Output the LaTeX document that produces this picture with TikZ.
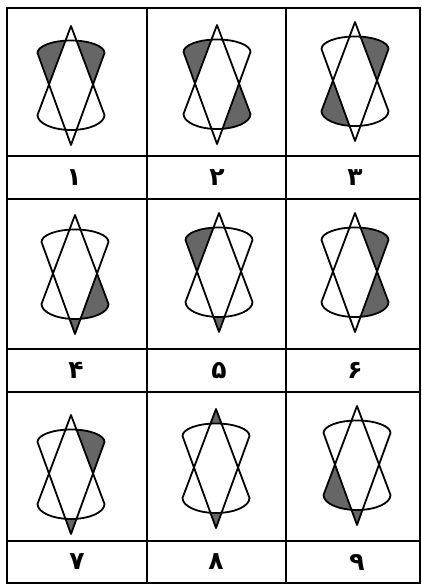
\documentclass[tikz,border=0pt]{standalone}
\usepackage{fontspec}
\newfontfamily\fa[Script=Arabic]{DejaVu Sans}
\TeXXeTstate=1
\tikzset{
  fig/.style={line width=1.8pt, line join=round},
  grid/.style={line width=1.8pt},
  shd/.style={fill=black!60},
  lab/.style={font=\fa\bfseries\fontsize{25}{28}\selectfont, inner sep=0pt}
}
\newcommand\regTL{\begin{scope}
  \clip (0,-119) -- (-33.5pt,-27) arc[start angle=180,end angle=0,x radius=33.5pt,y radius=12.5pt] -- cycle;
  \clip (0,50) -- (0,0) -- (-67,-178) -- (-120,-178) -- (-120,50) -- cycle;
  \fill[shd] (-120,-200) rectangle (120,60);\end{scope}}
\newcommand\regTR{\begin{scope}
  \clip (0,-119) -- (-33.5pt,-27) arc[start angle=180,end angle=0,x radius=33.5pt,y radius=12.5pt] -- cycle;
  \clip (0,50) -- (0,0) -- (67,-178) -- (120,-178) -- (120,50) -- cycle;
  \fill[shd] (-120,-200) rectangle (120,60);\end{scope}}
\newcommand\regBL{\begin{scope}
  \clip (0,0) -- (-33.5pt,-89) arc[start angle=180,end angle=360,x radius=33.5pt,y radius=15pt] -- cycle;
  \clip (0,-170) -- (0,-119) -- (-67,65) -- (-120,65) -- (-120,-170) -- cycle;
  \fill[shd] (-120,-200) rectangle (120,60);\end{scope}}
\newcommand\regBR{\begin{scope}
  \clip (0,0) -- (-33.5pt,-89) arc[start angle=180,end angle=360,x radius=33.5pt,y radius=15pt] -- cycle;
  \clip (0,-170) -- (0,-119) -- (67,65) -- (120,65) -- (120,-170) -- cycle;
  \fill[shd] (-120,-200) rectangle (120,60);\end{scope}}
\newcommand\regTT{\begin{scope}
  \clip (0,0) -- (-33.5pt,-89) arc[start angle=180,end angle=360,x radius=33.5pt,y radius=15pt] -- cycle;
  \clip (-40,-27) rectangle (40,10);
  \fill[shd, even odd rule] (-40,-36) rectangle (40,10) (0,-27) ellipse[x radius=33.5pt,y radius=12.5pt];\end{scope}}
\newcommand\regBT{\begin{scope}
  \clip (0,-119) -- (-33.5pt,-27) arc[start angle=180,end angle=0,x radius=33.5pt,y radius=12.5pt] -- cycle;
  \clip (-40,-89) rectangle (40,-130);
  \fill[shd, even odd rule] (-40,-80) rectangle (40,-130) (0,-89) ellipse[x radius=33.5pt,y radius=15pt];\end{scope}}
\newcommand\Fig[3]{\begin{scope}[shift={(#1,#2)}]
  \foreach \r in {#3} {\csname reg\r\endcsname}
  \draw[fig] (0,0) -- (-33.5pt,-89) arc[start angle=180,end angle=360,x radius=33.5pt,y radius=15pt] -- cycle;
  \draw[fig] (0,-119) -- (-33.5pt,-27) arc[start angle=180,end angle=0,x radius=33.5pt,y radius=12.5pt] -- cycle;
\end{scope}}
\begin{document}
\begin{tikzpicture}[x=1pt,y=1pt]
\useasboundingbox (0,0) rectangle (422,585);
\fill[white] (0,0) rectangle (422,585);
% figures
\Fig{71}{559}{TL,TR}
\Fig{217}{560}{TL,BR}
\Fig{355}{563}{TR,BL}
\Fig{75}{370}{BR,BT}
\Fig{219}{372}{TL,BT}
\Fig{355}{372}{TR,BR}
\Fig{71}{170}{TR,BT}
\Fig{216}{176}{TT,BT}
\Fig{357}{179}{BL,BT}
% grid
\draw[grid] (7,2) rectangle (420,577);
\foreach \yy in {429,386,236,193,44} \draw[grid] (7,\yy) -- (420,\yy);
\foreach \xx in {147,286} \draw[grid] (\xx,2) -- (\xx,577);
% labels
\node[lab] (l1) at (74,407.5) {\beginR ۱\endR};
\node[lab] (l2) at (217,407.5) {\beginR ۲\endR};
\node[lab] (l3) at (355,407.5) {\beginR ۳\endR};
\node[lab] (l4) at (76,214.5) {\beginR ۴\endR};
\node[lab] (l5) at (219,214.5) {\beginR ۵\endR};
\node[lab] (l6) at (355,214.5) {\beginR ۶\endR};
\node[lab] (l7) at (77,23) {\beginR ۷\endR};
\node[lab] (l8) at (216,23) {\beginR ۸\endR};
\node[lab] (l9) at (357,23) {\beginR ۹\endR};
\end{tikzpicture}
\end{document}
